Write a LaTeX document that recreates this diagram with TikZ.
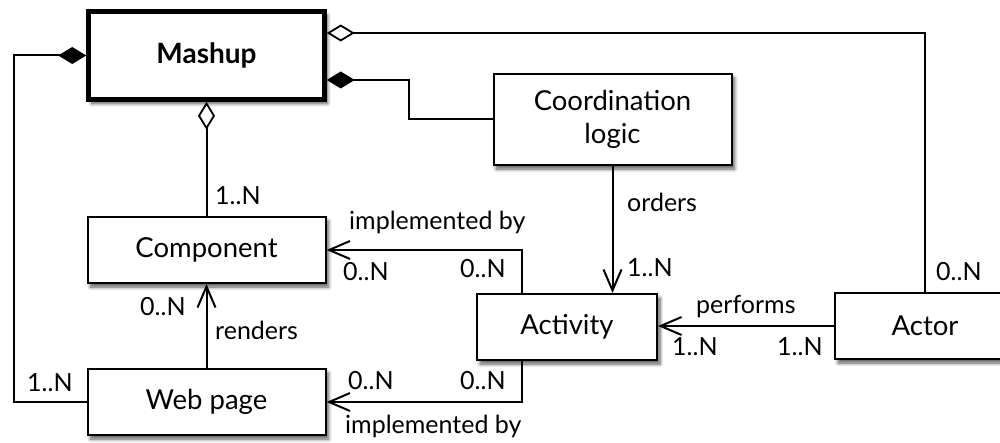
\documentclass[tikz,border=0pt]{standalone}
\usepackage{fontspec}
\setmainfont{Lato}
\usetikzlibrary{arrows.meta,calc,shadows,shadows.blur}

\tikzset{
  classbox/.style={draw, line width=2pt, fill=white, inner sep=0pt,
    minimum width=238pt, minimum height=66pt, align=center,
    font=\fontsize{27.5}{33}\selectfont,
    blur shadow={shadow xshift=3pt, shadow yshift=-4pt,
      shadow blur steps=8, shadow blur radius=3.5pt, shadow opacity=65}},
  narrowbox/.style={classbox, minimum width=180pt},
  conn/.style={line width=2pt},
  navi/.style={conn, -{Straight Barb[length=21pt, width=18pt, line width=2pt]}},
  comp/.style={conn, -{Diamond[length=28pt, width=17pt, line width=1.8pt]}},
  aggr/.style={conn, -{Diamond[open, length=28pt, width=17pt, line width=1.8pt, fill=white]}},
  lbl/.style={font=\fontsize{25}{30}\selectfont, inner sep=0pt, anchor=base west}
}

\begin{document}
\begin{tikzpicture}[x=1pt, y=-1pt]
  \useasboundingbox (0,0) rectangle (1000,443);

  % classes
  \node[classbox, line width=4.5pt, minimum width=236pt, minimum height=88pt,
        font=\fontsize{28}{33}\selectfont\bfseries] (mashup) at (206.5,55.5) {Mashup};
  \node[classbox, minimum height=91pt] (coord) at (612.5,119.5) {Coordination\\logic};
  \node[classbox] (component) at (206.5,250) {Component};
  \node[classbox] (webpage) at (206.5,402) {Web page};
  \node[narrowbox] (activity) at (567,327) {Activity};
  \node[narrowbox] (actor) at (925,326) {Actor};

  % aggregations and compositions
  \draw[aggr] (actor.north) |- ([yshift=22.5pt]mashup.east);
  \draw[comp] (coord.west) -- ++(-84,0) |- ([yshift=-24.5pt]mashup.east);
  \draw[comp] (webpage.west) -- ++(-73,0) |- (mashup.west);
  \draw[aggr] (component.north) -- (mashup.south);

  % associations
  \draw[navi] (webpage.north) -- (component.south);
  \draw[navi] (coord.south) -- (coord.south |- activity.north);
  \draw[navi] (actor.west) -- (actor.west -| activity.east);
  \draw[navi] ([xshift=-45pt]activity.north) |- (component.east);
  \draw[navi] ([xshift=-45pt]activity.south) |- (webpage.east);

  % role names and multiplicities
  \node[lbl] (m1) at (215,205) {1..N};
  \node[lbl] (m2) at (140,315) {0..N};
  \node[lbl] (r1) at (215,339) {renders};
  \node[lbl] (m3) at (27,391) {1..N};
  \node[lbl] (r2) at (349,230) {implemented by};
  \node[lbl] (m4) at (343,280) {0..N};
  \node[lbl] (m5) at (460,278) {0..N};
  \node[lbl] (r3) at (627,212) {orders};
  \node[lbl] (m6) at (627,277) {1..N};
  \node[lbl] (m7) at (348,389) {0..N};
  \node[lbl] (m8) at (460,389) {0..N};
  \node[lbl] (r4) at (345,433) {implemented by};
  \node[lbl] (r5) at (696,313) {performs};
  \node[lbl] (m9) at (672,355) {1..N};
  \node[lbl] (m10) at (777,355) {1..N};
  \node[lbl] (m11) at (936,281) {0..N};
\end{tikzpicture}
\end{document}
